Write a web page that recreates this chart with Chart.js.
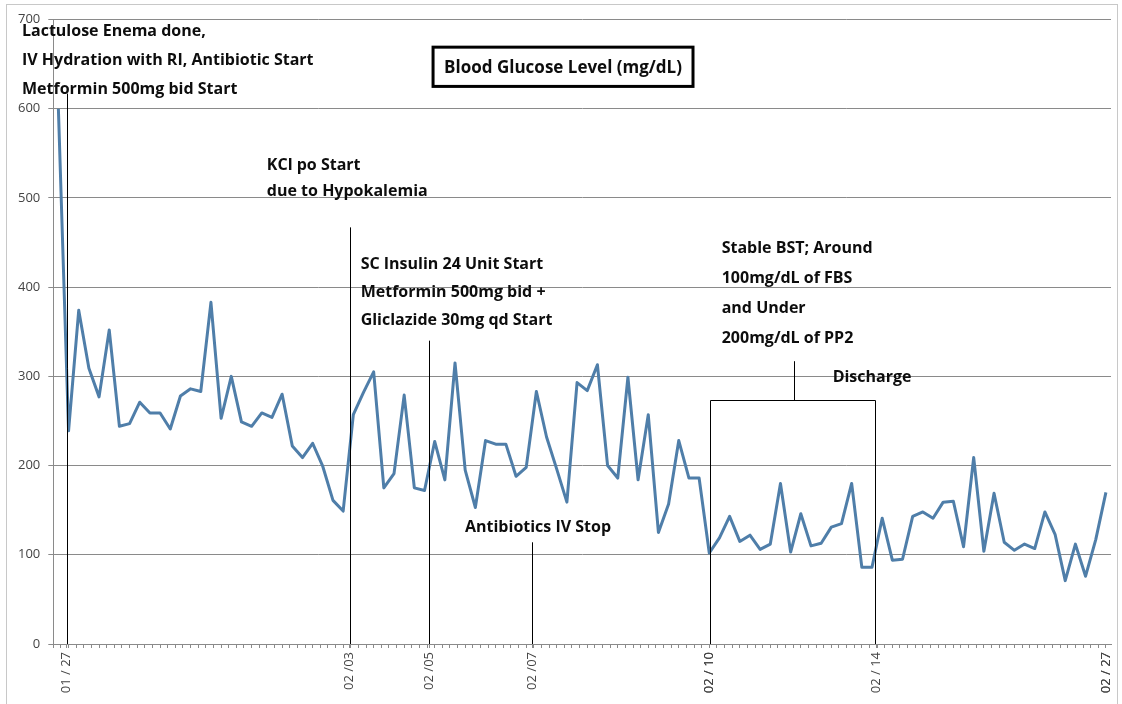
<!DOCTYPE html>
<html>
<head>
<meta charset="utf-8">
<script src="https://cdn.jsdelivr.net/npm/chart.js@4.4.1/dist/chart.umd.min.js"></script>
<style>
  html, body { margin: 0; padding: 0; background: #ffffff; }
  #wrap { width: 1122px; height: 704px; position: relative; }
</style>
</head>
<body>
<div id="wrap"><canvas id="c" width="1122" height="704"></canvas></div>
<script>
// ---- Data ----
const glucose = [
  600, 239, 374, 309, 277, 352, 244, 247, 271, 259,
  259, 241, 278, 286, 283, 383, 253, 300, 249, 244,
  259, 254, 280, 222, 209, 225, 199, 161, 149, 257,
  282, 305, 175, 191, 279, 175, 172, 227, 184, 315,
  195, 153, 228, 224, 224, 188, 198, 283, 232, 196,
  159, 293, 284, 313, 200, 186, 299, 184, 257, 125,
  157, 228, 186, 186, 102, 119, 143, 115, 122, 106,
  112, 180, 103, 146, 110, 113, 131, 135, 180, 86,
  86, 141, 94, 95, 143, 148, 141, 159, 160, 109,
  209, 104, 169, 114, 105, 112, 107, 148, 123, 71,
  112, 76, 117, 170
];
const dateLabels = ["01 / 27", "02 /03", "02 /05", "02 /07", "02 / 10", "02 / 14", "02 / 27"];
const datePositions = [0.8, 28.6, 36.5, 46.6, 64, 80.4, 103];
const yTicks = [0, 100, 200, 300, 400, 500, 600, 700];

// ---- Annotations (in data units: x = measurement index, y = mg/dL) ----
const eventLineX = [0.85, 28.7, 36.4, 46.6];
const eventLineTop = [617, 467, 340, 114];
const stableBox = { x0: 64.05, x1: 80.3, top: 273.6, stemX: 72.3, stemTop: 317 };
const noteBlocks = [
  { x: -3.58, y: 687, step: 29, lines: ["Lactulose Enema done,", "IV Hydration with RI, Antibiotic Start", "Metformin 500mg bid Start"] },
  { x: 20.5, y: 536.8, step: 26, lines: ["KCl po Start", "due to Hypokalemia"] },
  { x: 29.72, y: 425.2, step: 28, lines: ["SC Insulin 24 Unit Start", "Metformin 500mg bid +", "Gliclazide 30mg qd Start"] },
  { x: 39.98, y: 130.4, step: 0, lines: ["Antibiotics IV Stop"] },
  { x: 65.22, y: 443.4, step: 30, lines: ["Stable BST; Around", "100mg/dL of FBS", "and Under", "200mg/dL of PP2"] },
  { x: 76.13, y: 298.7, step: 0, lines: ["Discharge"] }
];
const titleText = "Blood Glucose Level (mg/dL)";
const titleBox = { x0: 36.84, x1: 62.4, yTop: 669, yBottom: 625 };

const minorStep = 0.75;
function buildXTicks() {
  const vals = [];
  for (let v = -0.5; v <= 103.5 + 1e-9; v += minorStep) vals.push(+v.toFixed(3));
  datePositions.forEach(p => vals.push(p));
  vals.sort((a, b) => a - b);
  return vals.map(v => ({ value: v }));
}

const FONT = "'Open Sans', 'Noto Sans', sans-serif";

const annotationPlugin = {
  id: 'annotations',
  afterDatasetsDraw(chart) {
    const { ctx, scales: { x, y } } = chart;
    ctx.save();
    ctx.strokeStyle = '#000000';
    ctx.lineWidth = 1;
    eventLineX.forEach((ex, i) => {
      const px = Math.round(x.getPixelForValue(ex)) + 0.5;
      ctx.beginPath();
      ctx.moveTo(px, y.getPixelForValue(0));
      ctx.lineTo(px, y.getPixelForValue(eventLineTop[i]));
      ctx.stroke();
    });
    const bx0 = Math.round(x.getPixelForValue(stableBox.x0)) + 0.5;
    const bx1 = Math.round(x.getPixelForValue(stableBox.x1)) + 0.5;
    const by = Math.round(y.getPixelForValue(stableBox.top)) + 0.5;
    const by0 = y.getPixelForValue(0);
    ctx.beginPath();
    ctx.moveTo(bx0, by0); ctx.lineTo(bx0, by); ctx.lineTo(bx1, by); ctx.lineTo(bx1, by0);
    ctx.stroke();
    const sx = Math.round(x.getPixelForValue(stableBox.stemX)) + 0.5;
    ctx.beginPath();
    ctx.moveTo(sx, by); ctx.lineTo(sx, y.getPixelForValue(stableBox.stemTop));
    ctx.stroke();

    ctx.fillStyle = '#0d0d0d';
    ctx.font = "700 16px " + FONT;
    ctx.textAlign = 'left';
    ctx.textBaseline = 'middle';
    noteBlocks.forEach(b => {
      const px = x.getPixelForValue(b.x);
      const py = y.getPixelForValue(b.y);
      b.lines.forEach((t, i) => ctx.fillText(t, px, py + i * b.step));
    });

    const tx0 = x.getPixelForValue(titleBox.x0), tx1 = x.getPixelForValue(titleBox.x1);
    const ty0 = y.getPixelForValue(titleBox.yTop), ty1 = y.getPixelForValue(titleBox.yBottom);
    ctx.fillStyle = '#ffffff';
    ctx.fillRect(tx0, ty0, tx1 - tx0, ty1 - ty0);
    ctx.lineWidth = 3;
    ctx.strokeStyle = '#000000';
    ctx.strokeRect(tx0, ty0, tx1 - tx0, ty1 - ty0);
    ctx.fillStyle = '#0d0d0d';
    ctx.font = "700 17px " + FONT;
    ctx.textAlign = 'center';
    ctx.fillText(titleText, (tx0 + tx1) / 2, (ty0 + ty1) / 2 + 1);

    ctx.restore();
  },
  beforeDraw(chart) {
    const { ctx } = chart;
    ctx.save();
    ctx.fillStyle = '#ffffff';
    ctx.fillRect(0, 0, chart.width, chart.height);
    ctx.strokeStyle = '#c8c8c8';
    ctx.lineWidth = 1;
    ctx.strokeRect(6.5, 4.5, 1111, 720);
    ctx.restore();
  }
};

new Chart(document.getElementById('c').getContext('2d'), {
  type: 'line',
  data: {
    datasets: [{
      data: glucose.map((v, i) => ({ x: i, y: v })),
      borderColor: '#4f7ea9',
      borderWidth: 3,
      pointRadius: 0,
      tension: 0,
      fill: false,
      borderJoinStyle: 'round'
    }]
  },
  options: {
    responsive: false,
    animation: false,
    layout: { padding: { top: 19.5, right: 11, left: 0, bottom: 0 } },
    plugins: { legend: { display: false }, tooltip: { enabled: false }, title: { display: false } },
    scales: {
      x: {
        type: 'linear',
        min: -0.5,
        max: 103.5,
        afterBuildTicks: s => { s.ticks = buildXTicks(); },
        afterFit: s => { s.height = 60; s.paddingLeft = 0; s.paddingRight = 0; },
        ticks: {
          autoSkip: false,
          minRotation: 90,
          maxRotation: 90,
          padding: 4,
          color: '#444444',
          font: { family: FONT, size: 13 },
          callback: (v) => {
            const k = datePositions.indexOf(v);
            return k >= 0 ? dateLabels[k] : '';
          }
        },
        grid: { drawOnChartArea: false, tickLength: 4, color: '#8a8a8a', lineWidth: 1 },
        border: { color: '#8a8a8a' }
      },
      y: {
        min: 0,
        max: 700,
        afterBuildTicks: s => { s.ticks = yTicks.map(v => ({ value: v })); },
        afterFit: s => { s.width = 53.3; },
        ticks: { padding: 8, color: '#444444', font: { family: FONT, size: 13 } },
        grid: { color: '#8a8a8a', tickLength: 5, lineWidth: 1 },
        border: { color: '#8a8a8a' }
      }
    }
  },
  plugins: [annotationPlugin]
});
</script>
</body>
</html>
